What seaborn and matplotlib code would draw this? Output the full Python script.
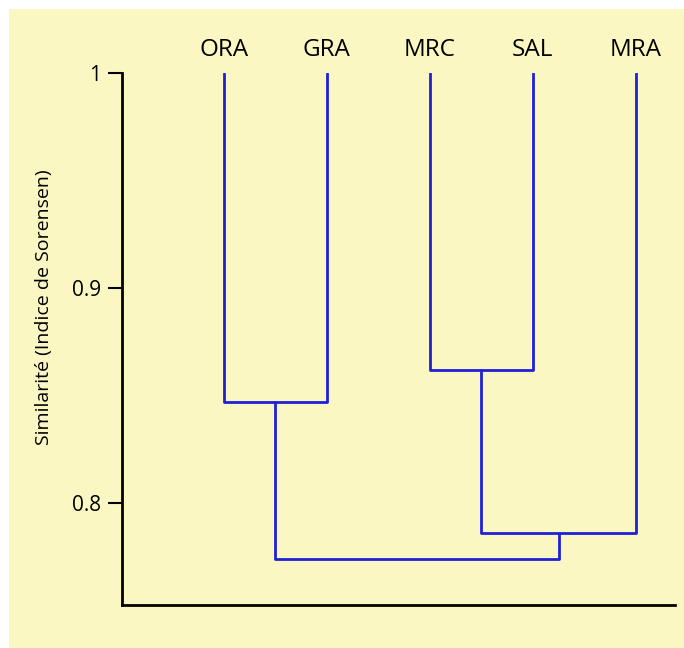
import pandas as pd
import seaborn as sns
import matplotlib.pyplot as plt
from matplotlib.patches import Rectangle

# leaves (left to right) and merge steps: (left cluster, right cluster, similarity)
leaves = ["ORA", "GRA", "MRC", "SAL", "MRA"]
leaf_top = 1.0
merges = [(0, 1, 0.847), (2, 3, 0.862), (6, 4, 0.786), (5, 7, 0.774)]
yticks = [0.8, 0.9, 1.0]
ytick_labels = ["0.8", "0.9", "1"]

# build dendrogram segments
pos = {i: (float(i), leaf_top) for i in range(len(leaves))}
rows = []
seg = 0
for k, (a, b, h) in enumerate(merges):
    xa, ya = pos[a]
    xb, yb = pos[b]
    for x, y in [(xa, ya), (xa, h), (xb, h), (xb, yb)]:
        rows.append({"x": x, "y": y, "seg": seg})
    seg += 1
    pos[len(leaves) + k] = ((xa + xb) / 2, h)
df = pd.DataFrame(rows)

sns.set_style("white")
plt.rcParams['font.family'] = ['Open Sans', 'DejaVu Sans']
plt.rcParams['text.color'] = 'black'
plt.rcParams['axes.labelcolor'] = 'black'

fig = plt.figure(figsize=(6.84, 6.48), dpi=100)
fig.patch.set_facecolor("white")
bg = Rectangle((9 / 684, 0), 1, 1 - 9 / 648, transform=fig.transFigure,
               facecolor="#faf7c2", edgecolor="none", zorder=-10)
fig.add_artist(bg)
ax = fig.add_axes([122 / 684, 1 - 605 / 648, 553 / 684, 532 / 648])
ax.set_zorder(5)
ax.set_facecolor("none")

sns.lineplot(data=df, x="x", y="y", units="seg", estimator=None, sort=False,
             color="#2020d8", linewidth=2, ax=ax, legend=False)

ax.set_xlim(-0.99, 4.38)
ax.set_ylim(0.7526, 1.0)

ax.xaxis.tick_top()
ax.set_xticks(range(len(leaves)))
ax.set_xticklabels(leaves, fontsize=17.5)
ax.tick_params(axis="x", length=0, pad=8, colors="black")
ax.set_xlabel("")

ax.set_yticks(yticks)
ax.set_yticklabels(ytick_labels, fontsize=15)
ax.tick_params(axis="y", direction="out", length=10, width=1.5, pad=5, left=True, colors="black")
ax.set_ylabel("Similarité (Indice de Sorensen)", fontsize=14)
ax.yaxis.set_label_coords(-0.125, 0.56)

for s in ["top", "right"]:
    ax.spines[s].set_visible(False)
for s in ["left", "bottom"]:
    ax.spines[s].set_color("black")
    ax.spines[s].set_linewidth(2)

plt.savefig("out.png", dpi=100)
